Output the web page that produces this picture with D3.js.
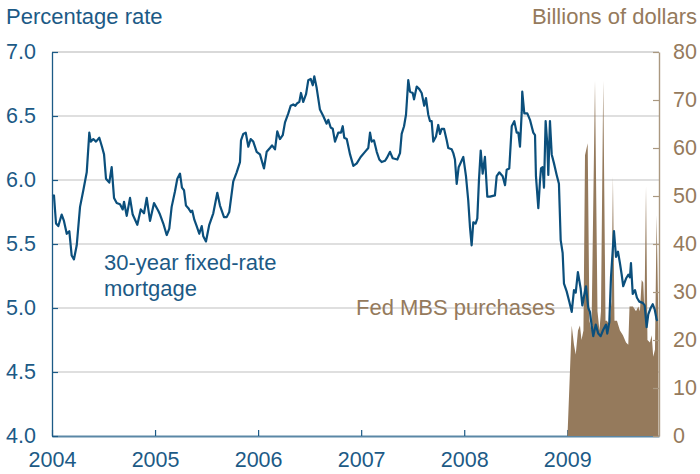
<!DOCTYPE html>
<html>
<head>
<meta charset="utf-8">
<script src="https://cdn.jsdelivr.net/npm/d3@7"></script>
<style>
  body { margin: 0; background: #fff; }
  svg text { font-family: "Liberation Sans", Arial, sans-serif; }
</style>
</head>
<body>
<div id="chart"></div>
<script>
// 30-year fixed-rate mortgage, percent (time as decimal years)
var rateYears = [
  2004.005, 2004.019, 2004.039, 2004.061, 2004.094, 2004.116, 2004.143, 2004.168, 2004.191, 2004.213,
  2004.240, 2004.272, 2004.304, 2004.337, 2004.362, 2004.376, 2004.401, 2004.427, 2004.459, 2004.485,
  2004.505, 2004.524, 2004.556, 2004.579, 2004.602, 2004.628, 2004.660, 2004.686, 2004.699, 2004.725,
  2004.757, 2004.783, 2004.828, 2004.861, 2004.893, 2004.919, 2004.951, 2004.990, 2005.031, 2005.048,
  2005.080, 2005.113, 2005.138, 2005.161, 2005.193, 2005.216, 2005.242, 2005.261, 2005.281, 2005.300,
  2005.323, 2005.346, 2005.361, 2005.381, 2005.404, 2005.429, 2005.453, 2005.468, 2005.494, 2005.526,
  2005.565, 2005.604, 2005.630, 2005.669, 2005.695, 2005.720, 2005.759, 2005.792, 2005.824, 2005.834,
  2005.856, 2005.880, 2005.905, 2005.928, 2005.953, 2005.986, 2006.018, 2006.057, 2006.083, 2006.115,
  2006.135, 2006.164, 2006.186, 2006.212, 2006.239, 2006.261, 2006.293, 2006.316, 2006.341, 2006.361,
  2006.380, 2006.400, 2006.416, 2006.438, 2006.465, 2006.487, 2006.510, 2006.530, 2006.545, 2006.568,
  2006.600, 2006.632, 2006.665, 2006.681, 2006.704, 2006.724, 2006.746, 2006.778, 2006.804, 2006.821,
  2006.836, 2006.860, 2006.892, 2006.924, 2006.957, 2006.995, 2007.037, 2007.069, 2007.086, 2007.102,
  2007.124, 2007.151, 2007.176, 2007.199, 2007.231, 2007.248, 2007.280, 2007.306, 2007.351, 2007.377,
  2007.393, 2007.416, 2007.435, 2007.457, 2007.474, 2007.500, 2007.513, 2007.539, 2007.564, 2007.587,
  2007.612, 2007.629, 2007.651, 2007.668, 2007.684, 2007.700, 2007.726, 2007.748, 2007.765, 2007.781,
  2007.804, 2007.830, 2007.845, 2007.878, 2007.894, 2007.910, 2007.927, 2007.946, 2007.969, 2007.991,
  2008.017, 2008.039, 2008.056, 2008.072, 2008.088, 2008.111, 2008.127, 2008.143, 2008.160, 2008.179,
  2008.201, 2008.224, 2008.250, 2008.298, 2008.315, 2008.340, 2008.373, 2008.396, 2008.412, 2008.437,
  2008.461, 2008.486, 2008.509, 2008.525, 2008.541, 2008.558, 2008.563, 2008.583, 2008.612, 2008.638,
  2008.670, 2008.687, 2008.696, 2008.719, 2008.735, 2008.745, 2008.761, 2008.774, 2008.790, 2008.806,
  2008.816, 2008.832, 2008.849, 2008.871, 2008.897, 2008.919, 2008.936, 2008.955, 2008.968, 2008.994,
  2009.019, 2009.043, 2009.065, 2009.082, 2009.103, 2009.130, 2009.146, 2009.162, 2009.181, 2009.204,
  2009.220, 2009.237, 2009.252, 2009.276, 2009.301, 2009.324, 2009.349, 2009.376, 2009.388, 2009.408,
  2009.424, 2009.441, 2009.453, 2009.473, 2009.492, 2009.511, 2009.528, 2009.543, 2009.570, 2009.592,
  2009.608, 2009.618, 2009.635, 2009.657, 2009.676, 2009.699, 2009.732, 2009.751, 2009.770, 2009.786,
  2009.809, 2009.829, 2009.848, 2009.867, 2009.875
];
var rateValues = [
  5.87, 5.88, 5.66, 5.64, 5.73, 5.68, 5.58, 5.60, 5.41, 5.38,
  5.49, 5.79, 5.92, 6.06, 6.37, 6.30, 6.32, 6.30, 6.33, 6.26,
  6.20, 6.01, 5.98, 6.10, 5.86, 5.82, 5.81, 5.77, 5.83, 5.72,
  5.86, 5.73, 5.65, 5.77, 5.74, 5.86, 5.68, 5.82, 5.76, 5.73,
  5.66, 5.57, 5.62, 5.79, 5.91, 6.01, 6.05, 5.94, 5.92, 5.80,
  5.78, 5.75, 5.76, 5.69, 5.64, 5.58, 5.64, 5.56, 5.52, 5.65,
  5.74, 5.90, 5.80, 5.71, 5.71, 5.75, 5.99, 6.06, 6.14, 6.31,
  6.36, 6.37, 6.26, 6.32, 6.30, 6.22, 6.20, 6.09, 6.22, 6.25,
  6.27, 6.24, 6.38, 6.32, 6.35, 6.45, 6.52, 6.58, 6.59, 6.58,
  6.60, 6.61, 6.68, 6.61, 6.67, 6.78, 6.79, 6.74, 6.81, 6.72,
  6.55, 6.50, 6.44, 6.47, 6.41, 6.40, 6.30, 6.37, 6.37, 6.42,
  6.33, 6.32, 6.20, 6.11, 6.13, 6.18, 6.22, 6.25, 6.37, 6.30,
  6.31, 6.22, 6.16, 6.14, 6.15, 6.17, 6.22, 6.17, 6.16, 6.21,
  6.36, 6.42, 6.51, 6.78, 6.69, 6.68, 6.63, 6.73, 6.71, 6.68,
  6.58, 6.64, 6.51, 6.46, 6.46, 6.30, 6.34, 6.43, 6.36, 6.40,
  6.40, 6.31, 6.25, 6.24, 6.21, 6.16, 5.97, 6.10, 6.14, 6.18,
  6.03, 5.84, 5.63, 5.49, 5.67, 5.66, 5.70, 6.00, 6.23, 6.05,
  6.18, 5.87, 5.87, 5.88, 6.03, 6.06, 6.03, 5.96, 6.08, 6.09,
  6.42, 6.46, 6.37, 6.37, 6.26, 6.53, 6.69, 6.52, 6.52, 6.47,
  6.37, 6.35, 6.03, 5.78, 5.99, 6.09, 6.10, 5.94, 6.46, 6.28,
  6.04, 6.46, 6.20, 6.13, 6.04, 5.97, 5.53, 5.43, 5.19, 5.13,
  5.05, 4.97, 5.14, 5.12, 5.28, 5.15, 5.02, 5.09, 5.17, 5.00,
  4.97, 4.86, 4.78, 4.87, 4.80, 4.78, 4.83, 4.87, 4.80, 4.89,
  5.24, 5.45, 5.60, 5.40, 5.44, 5.35, 5.26, 5.17, 5.23, 5.26,
  5.24, 5.35, 5.11, 5.14, 5.08, 5.05, 5.04, 5.02, 4.85, 4.95,
  5.00, 5.03, 4.99, 4.91, 4.90
];

// Fed MBS purchases, billions of dollars
var mbsYears = [
  2009.002, 2009.043, 2009.065, 2009.082, 2009.104, 2009.123, 2009.138, 2009.157, 2009.172, 2009.198,
  2009.215, 2009.235, 2009.269, 2009.293, 2009.312, 2009.327, 2009.349, 2009.371, 2009.385, 2009.409,
  2009.429, 2009.443, 2009.458, 2009.482, 2009.511, 2009.540, 2009.570, 2009.592, 2009.604, 2009.637,
  2009.667, 2009.689, 2009.705, 2009.722, 2009.737, 2009.749, 2009.764, 2009.778, 2009.802, 2009.819,
  2009.834, 2009.851, 2009.867, 2009.885
];
var mbsValues = [
  0, 23, 19, 17, 22, 23, 20, 22, 58.5, 61,
  24, 22, 74, 26, 22, 26, 74, 24, 24, 23,
  28, 54, 24, 24, 22, 21, 19.5, 19, 27, 27,
  26, 27, 26, 32.5, 32, 26, 52, 20, 19.5, 21,
  16.5, 18, 46, 22
];

var yearTicks = [2004, 2005, 2006, 2007, 2008, 2009];
var rateTicks = [4.0, 4.5, 5.0, 5.5, 6.0, 6.5, 7.0];
var mbsTicks = [0, 10, 20, 30, 40, 50, 60, 70, 80];

var width = 700, height = 474,
    margin = { top: 52, right: 41, bottom: 38, left: 52 },
    blue = '#0b4f7c', textBlue = '#1c5a86', brown = '#957a5c';

var svg = d3.select('#chart').append('svg')
  .attr('width', width)
  .attr('height', height);

var x = d3.scaleLinear()
  .domain([2004, 2009.89])
  .range([margin.left, width - margin.right]);

var y = d3.scaleLinear()
  .domain([4, 7])
  .range([height - margin.bottom, margin.top]);

var y2 = d3.scaleLinear()
  .domain([0, 80])
  .range([height - margin.bottom, margin.top]);

// gridlines
svg.append('g').selectAll('line')
  .data(rateTicks.slice(1))
  .enter().append('line')
    .attr('x1', x.range()[0])
    .attr('x2', x.range()[1])
    .attr('y1', function(d) { return y(d); })
    .attr('y2', function(d) { return y(d); })
    .style('stroke', function(d) { return d === 7 ? '#b4b4b4' : '#d4d4d4'; })
    .style('stroke-width', function(d) { return d === 7 ? 1.2 : 1.6; });

// bottom axis
var xGuide = svg.append('g')
  .attr('transform', 'translate(0,' + y.range()[0] + ')')
  .call(d3.axisBottom(x)
    .tickValues(yearTicks)
    .tickFormat(d3.format('d'))
    .tickSizeInner(-6)
    .tickSizeOuter(0)
    .tickPadding(16));
xGuide.select('.domain').style('stroke', '#5a87a6').style('stroke-width', 2.2);
xGuide.selectAll('.tick line').style('stroke', textBlue).style('stroke-width', 1.2);
xGuide.selectAll('text')
  .style('font-size', '21.5px')
  .style('fill', textBlue);

// MBS purchases area
var area = d3.area()
  .x(function(d, i) { return x(mbsYears[i]); })
  .y0(y2(0))
  .y1(function(d) { return y2(d); });

svg.append('path')
  .datum(mbsValues)
  .attr('d', area)
  .style('fill', brown);

// mortgage rate line
var line = d3.line()
  .x(function(d, i) { return x(rateYears[i]); })
  .y(function(d) { return y(d); });

svg.append('path')
  .datum(rateValues)
  .attr('d', line)
  .style('fill', 'none')
  .style('stroke', blue)
  .style('stroke-width', 2.2)
  .style('stroke-linejoin', 'round');

// left axis
var yGuide = svg.append('g')
  .attr('transform', 'translate(' + x.range()[0] + ',0)')
  .call(d3.axisLeft(y)
    .tickValues(rateTicks)
    .tickFormat(d3.format('.1f'))
    .tickSizeInner(-6)
    .tickSizeOuter(0)
    .tickPadding(16));
yGuide.select('.domain').style('stroke', textBlue).style('stroke-width', 1.3);
yGuide.selectAll('.tick line').style('stroke', textBlue).style('stroke-width', 1.2);
yGuide.selectAll('text')
  .style('font-size', '21.5px')
  .style('fill', textBlue);

// right axis
var y2Guide = svg.append('g')
  .attr('transform', 'translate(' + x.range()[1] + ',0)')
  .call(d3.axisRight(y2)
    .tickValues(mbsTicks)
    .tickSizeInner(-6)
    .tickSizeOuter(0)
    .tickPadding(14));
y2Guide.select('.domain').style('stroke', '#aa9880').style('stroke-width', 1.4);
y2Guide.selectAll('.tick line').style('stroke', '#aa9880').style('stroke-width', 1.2);
y2Guide.selectAll('text')
  .style('font-size', '21.5px')
  .style('fill', brown);

// titles and labels
svg.append('text')
  .attr('x', 6).attr('y', 24)
  .style('font-size', '22px')
  .style('fill', textBlue)
  .text('Percentage rate');

svg.append('text')
  .attr('x', 697).attr('y', 24)
  .attr('text-anchor', 'end')
  .style('font-size', '22px')
  .style('fill', brown)
  .text('Billions of dollars');

svg.append('text')
  .attr('x', 104).attr('y', 270)
  .style('font-size', '22px')
  .style('fill', textBlue)
  .text('30-year fixed-rate');

svg.append('text')
  .attr('x', 104).attr('y', 296)
  .style('font-size', '22px')
  .style('fill', textBlue)
  .text('mortgage');

svg.append('text')
  .attr('x', 356).attr('y', 315)
  .style('font-size', '22px')
  .style('fill', brown)
  .text('Fed MBS purchases');
</script>
</body>
</html>
